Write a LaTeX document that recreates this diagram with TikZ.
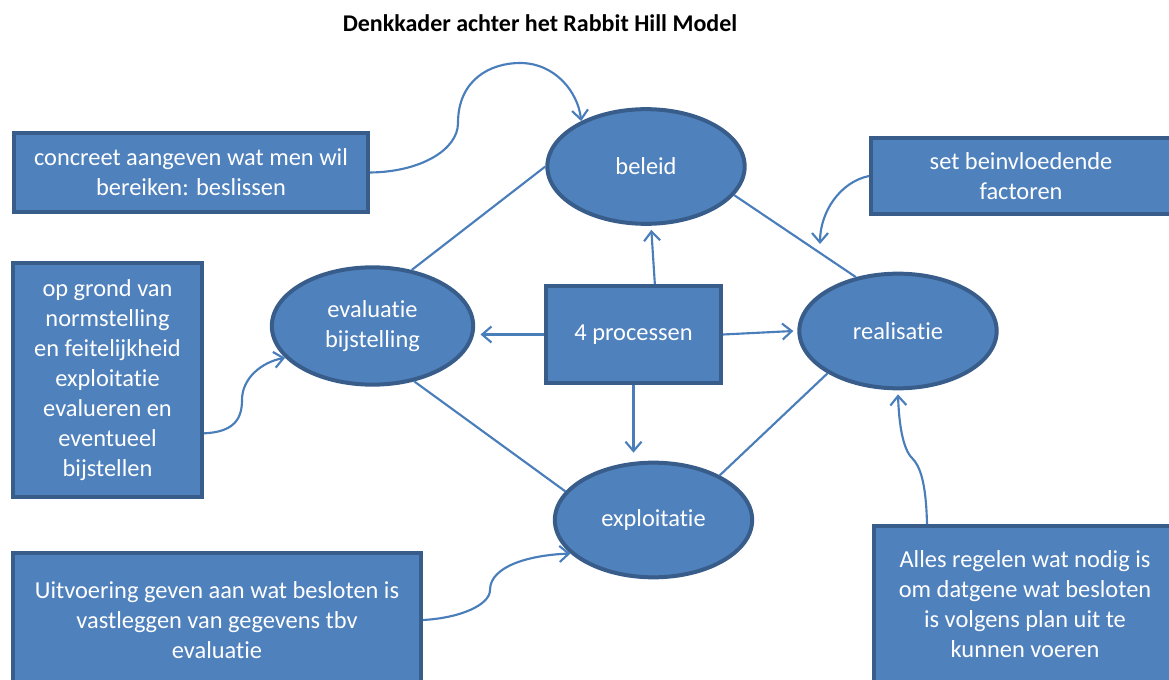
\documentclass[tikz,border=0pt]{standalone}
\usepackage{fontspec}
\setmainfont{Carlito}[RawFeature={-liga}]
\usepackage{tikz}
\usetikzlibrary{shapes.geometric, arrows.meta, positioning, calc}
\definecolor{boxblue}{RGB}{79,129,189}
\definecolor{boxedge}{RGB}{56,93,138}
\definecolor{linkblue}{RGB}{74,126,187}

\begin{document}
\begin{tikzpicture}[
    x=0.75pt, y=-0.75pt,
    >={Straight Barb[length=7pt,width=12pt]},
    kader/.style={rectangle, draw=boxedge, fill=boxblue, line width=3pt, text=white, align=center, inner sep=0pt, font=\fontsize{18.3}{22.5}\selectfont},
    proces/.style={ellipse, draw=boxedge, fill=boxblue, line width=3pt, text=white, align=center, inner sep=0pt, minimum width=148pt, minimum height=86pt, font=\fontsize{18.3}{22.5}\selectfont},
    link/.style={linkblue, line width=1.6pt},
]
    \useasboundingbox (0,0) rectangle (1169,680);

    \node[anchor=base, font=\bfseries\fontsize{18}{22}\selectfont] (titel) at (540,31.5) {Denkkader achter het Rabbit Hill Model};

    \node[kader, minimum width=265.5pt, minimum height=59pt] (besluit) at (191,172.5) {concreet aangeven wat men wil\\bereiken: beslissen};
    \node[kader, minimum width=225pt, minimum height=57pt] (factoren) at (1021,176) {set beinvloedende\\factoren};
    \node[kader, minimum width=141.75pt, minimum height=175.5pt] (normen) at (107.5,380) {op grond van\\normstelling\\en feitelijkheid\\exploitatie\\evalueren en\\eventueel\\bijstellen};
    \node[kader, minimum width=131.25pt, minimum height=72.75pt] (processen) at (633.5,334.5) {4 processen};
    \node[kader, minimum width=306pt, minimum height=100.5pt] (uitvoering) at (217,620) {Uitvoering geven aan wat besloten is\\vastleggen van gegevens tbv\\evaluatie};
    \node[kader, minimum width=226.5pt, minimum height=117pt] (regelen) at (1025,604) {Alles regelen wat nodig is\\om datgene wat besloten\\is volgens plan uit te\\kunnen voeren};

    \node[proces] (beleid) at (646,166.5) {beleid};
    \node[proces, minimum width=151pt, minimum height=88pt] (evaluatie) at (372.5,326) {evaluatie\\bijstelling};
    \node[proces] (realisatie) at (898,331) {realisatie};
    \node[proces] (exploitatie) at (653.5,520) {exploitatie};

    \coordinate (invloed) at (820,244);

    % cirkel
    \draw[link] (evaluatie.55) -- (beleid.180);
    \draw[link] (beleid.-18) -- (realisatie.128);
    \draw[link] (evaluatie.-53) -- (exploitatie.162);
    \draw[link] (exploitatie.34) -- (realisatie.211);

    \draw[link, ->] ([xshift=16pt]processen.north) -- ([xshift=4pt,yshift=-3pt]beleid.south);
    \draw[link, ->] (processen.west) -- ([xshift=4pt]processen.west -| evaluatie.east);
    \draw[link, ->] (processen.east) -- ([xshift=-3pt]realisatie.west);
    \draw[link, ->] (processen.south) -- ([yshift=6pt]processen.south |- exploitatie.north);

    % toelichting
    \draw[link, ->] (besluit.east) .. controls (420,172) and (458,150) .. (458,123) .. controls (458,80) and (490,63) .. (520,63) .. controls (555,63) and (578,92) .. (beleid.145);
    \draw[link, ->] (factoren.west) .. controls (840,182) and (820,212) .. (invloed);
    \draw[link, ->] ([yshift=-40pt]normen.east) .. controls (235,432) and (242,418) .. (242,400) .. controls (242,378) and (262,362) .. (evaluatie.200);
    \draw[link, ->] (uitvoering.east) .. controls (460,618) and (490,605) .. (490,590) .. controls (490,566) and (530,555) .. (exploitatie.202);
    \draw[link, ->] ([xshift=-73.5pt]regelen.north) .. controls (926,482) and (920,466) .. (912,458) .. controls (903,449) and (899,425) .. ([yshift=-3pt]realisatie.south);
\end{tikzpicture}
\end{document}
